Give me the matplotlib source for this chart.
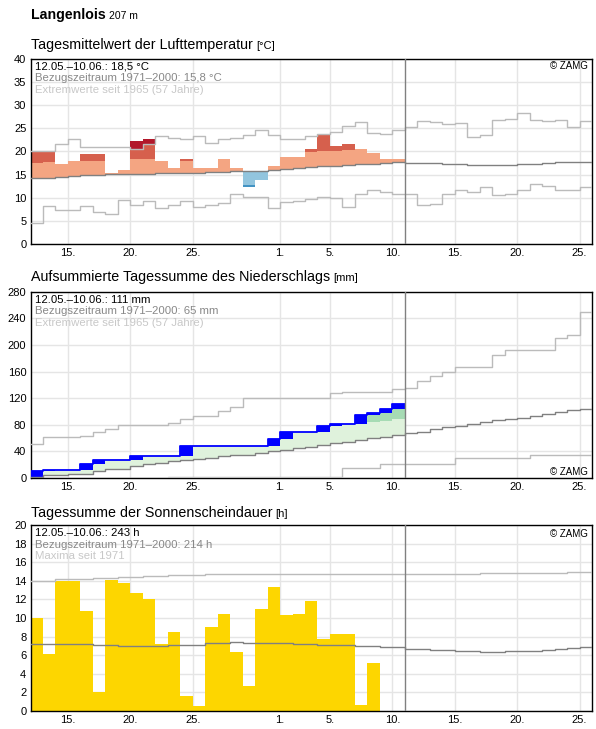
import numpy as np
import matplotlib
matplotlib.use("Agg")
import matplotlib.pyplot as plt

plt.rcParams["font.family"] = ["Liberation Sans", "DejaVu Sans"]

# day 0 = 12.05., 45 days shown, data up to 10.06. (30 days)
N_DAYS = 45
tick_days = [3, 8, 13, 20, 24, 29, 34, 39, 44]
tick_labels = ["15.", "20.", "25.", "1.", "5.", "10.", "15.", "20.", "25."]

# ---- temperature (°C) ----
temp = [20.0, 20.0, 17.2, 18.0, 19.5, 19.5, 15.3, 15.9, 22.3, 22.7,
        18.0, 16.3, 18.45, 16.5, 16.5, 18.25, 16.5, 12.3, 13.8, 16.75,
        18.7, 18.7, 20.4, 23.6, 21.25, 21.5, 20.6, 19.75, 18.45, 18.25]
temp_sd = [3.27, 3.27, 3.2, 3.3, 3.06, 3.06, 3.1, 3.1, 3.05, 3.05,
           3.2, 3.0, 2.77, 3.0, 3.0, 3.0, 3.0, 3.14, 3.14, 3.2,
           3.2, 3.3, 3.36, 3.35, 3.27, 3.28, 3.4, 3.3, 3.3, 3.3]
temp_mean = [14.2, 14.35, 14.55, 14.75, 14.95, 14.95, 15.05, 15.2, 15.2, 15.2,
             15.25, 15.25, 15.25, 15.35, 15.45, 15.45, 15.7, 15.85, 15.85, 16.05,
             16.2, 16.4, 16.6, 16.8, 16.9, 17.1, 17.3, 17.3, 17.4, 17.6,
             17.4, 17.4, 17.4, 17.35, 17.2, 17.15, 17.15, 17.15, 17.15, 17.2,
             17.3, 17.45, 17.6, 17.8, 17.8]
temp_max = [20.1, 20.1, 21.6, 22.65, 20.95, 20.95, 20.95, 20.95, 20.4, 21.5,
            23.3, 22.95, 22.65, 23.3, 21.8, 22.65, 22.95, 23.5, 24.6, 23.5,
            22.7, 22.7, 23.3, 23.8, 24.1, 25.5, 26.3, 24.0, 23.8, 24.6,
            25.3, 26.6, 26.3, 25.8, 26.2, 23.0, 23.6, 26.85, 27.05, 28.2,
            26.85, 26.5, 26.85, 25.35, 26.5]
temp_min = [4.5, 8.15, 7.3, 7.3, 8.15, 6.85, 6.45, 9.5, 8.35, 9.25,
            7.7, 8.35, 9.25, 7.9, 8.35, 8.8, 10.9, 10.1, 10.25, 7.7,
            9.0, 9.25, 9.7, 10.25, 9.85, 7.95, 10.7, 11.75, 11.2, 10.9,
            10.9, 8.5, 8.7, 10.7, 11.55, 11.25, 12.3, 10.5, 10.7, 11.55,
            12.85, 12.55, 11.55, 11.55, 12.3]

# ---- precipitation (mm) ----
precip_day = [10.0, 1.6, 0, 0, 9.0, 6.1, 0, 0, 5.7, 0,
              0, 0, 15.1, 1.0, 0, 0, 0, 0, 0, 9.5,
              10.6, 0, 0, 9.1, 3.0, 0, 13.6, 3.0, 6.0, 8.1]
precip_mean = [2, 5, 5, 6.5, 6.5, 10, 13, 14, 18, 21,
               23, 25, 26.7, 28.7, 30.2, 32.7, 34.7, 34.7, 37.7, 41.2,
               42.8, 44.8, 46.8, 49.8, 52.3, 54.3, 57.3, 59.4, 61.4, 63.9,
               67.1, 69.6, 74.1, 77.2, 78.7, 80.7, 83.7, 86.7, 88.2, 90.2,
               93.2, 96.7, 99.7, 101.7, 103.2]
precip_max = [50.8, 60.9, 60.9, 60.9, 62.4, 68.9, 72.9, 79.5, 79.5, 79.5,
              79.5, 82, 88, 93, 93, 100, 107, 119.7, 119.7, 119.7,
              119.7, 119.7, 119.7, 119.7, 127.3, 128.8, 128.8, 128.8, 128.8, 133.8,
              134.8, 145.8, 152.8, 159.3, 166.3, 166.3, 166.3, 184.8, 192.4, 192.4,
              192.4, 192.4, 209.9, 214.9, 249]
precip_min = [0, 0, 0, 0, 0, 0, 0, 0, 0, 0,
              0, 1, 1, 1, 1, 1, 1, 1, 1, 1,
              1, 1, 1, 1, 1, 14.5, 14.5, 14.5, 21, 21,
              21, 21, 21, 21, 29.5, 29.5, 29.5, 29.5, 29.5, 29.5,
              34, 34, 34, 34, 34]
wet_days = [27, 28, 29]
wet_band = [83.5, 86, 89]

# ---- sunshine (h) ----
sun = [10.0, 6.1, 14.0, 14.0, 10.8, 2.0, 14.1, 13.75, 12.7, 12.05,
       7.2, 8.5, 1.6, 0.5, 9.0, 10.4, 6.3, 2.7, 11.0, 13.3,
       10.3, 10.4, 11.8, 7.75, 8.3, 8.3, 0.6, 5.2, 0, 0]
sun_mean = [7.17, 7.17, 7.17, 7.17, 7.17, 7.06, 7.06, 6.95, 6.95, 6.95,
            6.95, 7.05, 7.15, 7.15, 7.27, 7.27, 7.37, 7.27, 7.27, 7.27,
            7.27, 7.16, 7.16, 7.05, 7.05, 7.05, 6.94, 6.94, 6.84, 6.84,
            6.7, 6.63, 6.52, 6.52, 6.41, 6.41, 6.31, 6.31, 6.41, 6.41,
            6.41, 6.52, 6.63, 6.77, 6.88]
sun_max = [14.0, 14.0, 14.14, 14.14, 14.14, 14.25, 14.25, 14.39, 14.39, 14.5,
           14.5, 14.57, 14.57, 14.57, 14.7, 14.7, 14.7, 14.7, 14.7, 14.7,
           14.7, 14.7, 14.7, 14.7, 14.7, 14.7, 14.7, 14.7, 14.7, 14.7,
           14.7, 14.7, 14.7, 14.7, 14.7, 14.7, 14.8, 14.8, 14.8, 14.8,
           14.8, 14.8, 14.8, 14.95, 14.95]

GRID = "#e5e5e5"
MAXC = "#bbbbbb"
MEANC = "#808080"
LW = 1.0


def step(ax, vals, **kw):
    y = np.append(vals, vals[-1])
    ax.step(np.arange(len(y)), y, where="post", **kw)


def setup(ax, ymax, ystep):
    ax.set_xlim(0, N_DAYS)
    ax.set_ylim(0, ymax)
    ax.set_yticks(np.arange(0, ymax + 1, ystep))
    ax.set_xticks(tick_days)
    ax.set_xticklabels(tick_labels)
    ax.tick_params(length=0, labelsize=8, pad=3)
    ax.grid(color=GRID, linewidth=1)
    ax.set_axisbelow(True)
    for s in ax.spines.values():
        s.set_linewidth(1)
    ax.axvline(30, color=MEANC, linewidth=1, zorder=5)


def info(ax, lines):
    cols = ["black", "#888888", "#c8c8c8"]
    for i, (t, c) in enumerate(zip(lines, cols)):
        ax.text(4 / 561, 1 - (8 + 11.5 * i) / 186, t, transform=ax.transAxes,
                fontsize=8.2, color=c, va="center", ha="left", zorder=6)


def zamg(ax, y):
    ax.text(1 - 4 / 561, y, "© ZAMG", transform=ax.transAxes, fontsize=7,
            ha="right", va="center", zorder=6)


fig = plt.figure(figsize=(5.96, 7.29), dpi=100)
L, W = 30.5 / 596, 561.5 / 596
ax1 = fig.add_axes([L, 1 - 244 / 729, W, 185.3 / 729])
ax2 = fig.add_axes([L, 1 - 478 / 729, W, 186.3 / 729])
ax3 = fig.add_axes([L, 1 - 711 / 729, W, 186 / 729])

days = np.arange(len(temp))

# ---- panel 1 ----
setup(ax1, 40, 5)
t = np.array(temp)
m = np.array(temp_mean[:len(temp)])
sd = np.array(temp_sd)
mx = np.array(temp_max[:len(temp)])
above = t >= m
hi = m + sd
lo = m - sd
top1 = np.where(above, np.minimum(t, hi), m)
ax1.bar(days, top1 - m, bottom=m, width=1, align="edge", color="#f4a582", zorder=2)
top2 = np.where(above & (t > hi), np.minimum(t, mx), hi)
ax1.bar(days, np.clip(top2 - hi, 0, None), bottom=hi, width=1, align="edge",
        color="#d6604d", zorder=2)
ax1.bar(days, np.clip(t - np.maximum(mx, hi), 0, None), bottom=np.maximum(mx, hi),
        width=1, align="edge", color="#b2182b", zorder=2)
b1 = np.where(~above, np.maximum(t, lo), m)
ax1.bar(days, m - b1, bottom=b1, width=1, align="edge", color="#92c5de", zorder=2)
ax1.bar(days, np.clip(lo - t, 0, None) * (~above), bottom=t, width=1, align="edge",
        color="#4393c3", zorder=2)
step(ax1, temp_max, color=MAXC, linewidth=LW, zorder=3)
step(ax1, temp_min, color=MAXC, linewidth=LW, zorder=3)
step(ax1, temp_mean, color=MEANC, linewidth=LW, zorder=3)
info(ax1, ["12.05.\u201310.06.: 18,5 °C", "Bezugszeitraum 1971\u20132000: 15,8 °C",
           "Extremwerte seit 1965 (57 Jahre)"])
zamg(ax1, 1 - 7 / 186)

# ---- panel 2 ----
setup(ax2, 280, 40)
cum = np.cumsum(precip_day)
prev = np.append(0, cum[:-1])
pm = np.array(precip_mean[:len(cum)])
ax2.bar(days, cum - pm, bottom=pm, width=1, align="edge", color="#dff2dc", zorder=2)
wd = np.array(wet_days)
ax2.bar(wd, cum[wd] - np.array(wet_band), bottom=wet_band, width=1, align="edge",
        color="#a6dbb4", zorder=2)
ax2.bar(days, cum - prev, bottom=prev, width=1, align="edge", color="#0000ff", zorder=3)
step(ax2, cum, color="#0000ff", linewidth=1.3, zorder=3)
step(ax2, precip_max, color=MAXC, linewidth=LW, zorder=4)
step(ax2, precip_min, color=MAXC, linewidth=LW, zorder=4)
step(ax2, precip_mean, color=MEANC, linewidth=LW, zorder=4)
info(ax2, ["12.05.\u201310.06.: 111 mm", "Bezugszeitraum 1971\u20132000: 65 mm",
           "Extremwerte seit 1965 (57 Jahre)"])
zamg(ax2, 6 / 186)

# ---- panel 3 ----
setup(ax3, 20, 2)
ax3.bar(days, sun, width=1, align="edge", color="#fdd600", zorder=2)
step(ax3, sun_max, color=MAXC, linewidth=LW, zorder=3)
step(ax3, sun_mean, color=MEANC, linewidth=LW, zorder=3)
info(ax3, ["12.05.\u201310.06.: 243 h", "Bezugszeitraum 1971\u20132000: 214 h",
           "Maxima seit 1971"])
zamg(ax3, 1 - 9 / 186)

# ---- titles ----
fig.canvas.draw()
r = fig.canvas.get_renderer()


def titled(y, text, unit, size=10.3, usize=8, weight="normal"):
    t = fig.text(31 / 596, 1 - y / 729, text, fontsize=size, va="baseline",
                 fontweight=weight)
    bb = t.get_window_extent(renderer=r)
    fig.text((bb.x1 + 3) / fig.bbox.width, 1 - y / 729, unit, fontsize=usize,
             va="baseline")


titled(19, "Langenlois", "207 m", size=10.2, usize=7.5, weight="bold")
titled(49, "Tagesmittelwert der Lufttemperatur", "[°C]")
titled(281, "Aufsummierte Tagessumme des Niederschlags", "[mm]")
titled(517, "Tagessumme der Sonnenscheindauer", "[h]")

fig.savefig("out.png", dpi=100)
